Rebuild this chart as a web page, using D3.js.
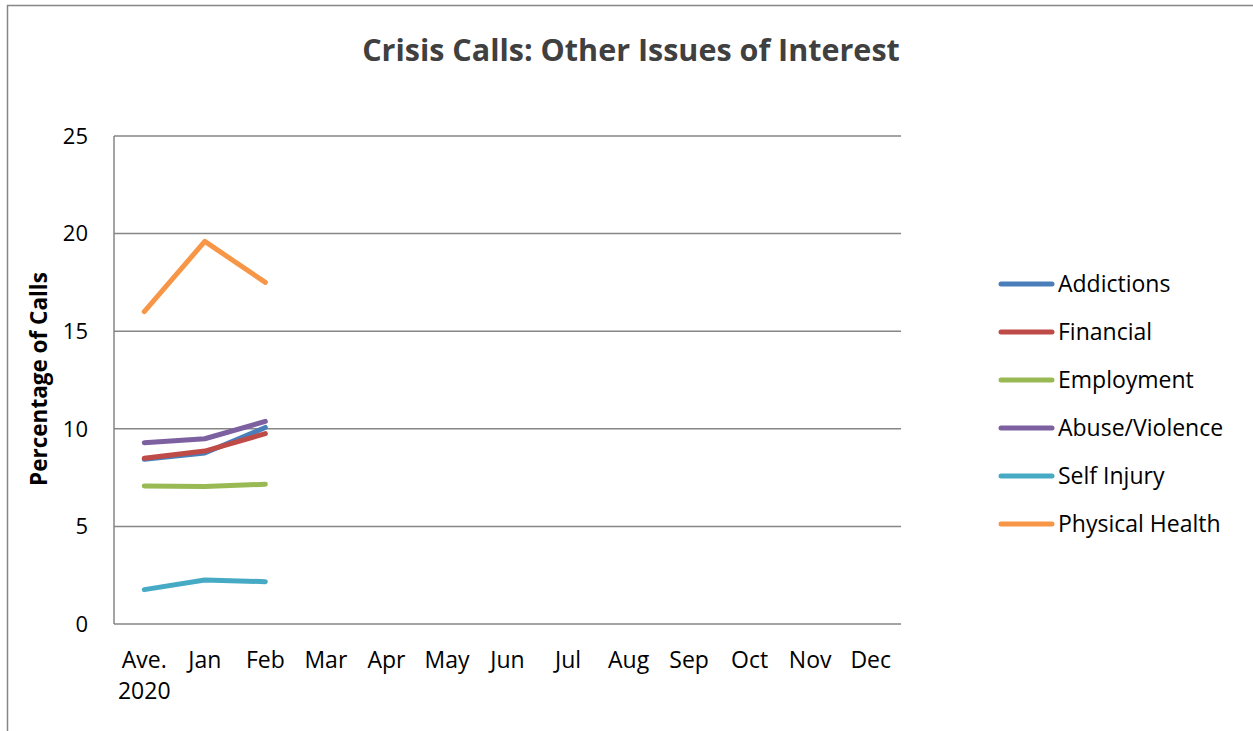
<!DOCTYPE html>
<html><head><meta charset="utf-8">
<script src="https://cdn.jsdelivr.net/npm/d3@7"></script>
<style>body{margin:0;background:#fff}svg{display:block}</style>
</head><body>
<svg id="chart" width="1253" height="731"></svg>
<script>
const categories = [["Ave.","2020"],["Jan"],["Feb"],["Mar"],["Apr"],["May"],["Jun"],["Jul"],["Aug"],["Sep"],["Oct"],["Nov"],["Dec"]];
const seriesNames = ["Addictions","Financial","Employment","Abuse/Violence","Self Injury","Physical Health"];
const seriesColors = ["#4a7ebb","#be4b48","#98b954","#7d60a0","#46aac5","#f79646"];
const addictions = [8.44, 8.76, 10.07];
const financial = [8.49, 8.86, 9.75];
const employment = [7.07, 7.05, 7.16];
const abuseViolence = [9.29, 9.49, 10.38];
const selfInjury = [1.76, 2.25, 2.17];
const physicalHealth = [16.0, 19.6, 17.5];
const yTicks = [0, 5, 10, 15, 20, 25];
const title = "Crisis Calls: Other Issues of Interest";
const yTitle = "Percentage of Calls";

const series = [addictions, financial, employment, abuseViolence, selfInjury, physicalHealth];
const svg = d3.select("#chart");
const font = "'Open Sans', sans-serif";
const gridColor = "#868686";

svg.append("path").attr("d","M7.5,731 V5.5 H1253").attr("fill","none").attr("stroke",gridColor).attr("stroke-width",1.5);

const plot = {left:114, right:901, top:136, bottom:624};
const x = d3.scaleBand().domain(d3.range(categories.length)).range([plot.left, plot.right]);
const y = d3.scaleLinear().domain([0,25]).range([plot.bottom, plot.top]);

svg.append("g").selectAll("line").data(yTicks).join("line")
  .attr("x1",plot.left).attr("x2",plot.right)
  .attr("y1",d=>y(d)).attr("y2",d=>y(d))
  .attr("stroke",gridColor).attr("stroke-width",1.5);
svg.append("line").attr("x1",plot.left).attr("x2",plot.left).attr("y1",plot.top).attr("y2",plot.bottom)
  .attr("stroke",gridColor).attr("stroke-width",1.5);

svg.append("g").selectAll("text").data(yTicks).join("text")
  .attr("x",88).attr("y",d=>y(d)).attr("dy","0.35em").attr("text-anchor","end")
  .attr("font-family",font).attr("font-size",22).attr("fill","#000").text(d=>d);

const xl = svg.append("g").selectAll("text").data(categories).join("text")
  .attr("x",(d,i)=>x(i)+x.bandwidth()/2).attr("y",668)
  .attr("text-anchor","middle").attr("font-family",font).attr("font-size",23).attr("fill","#000");
xl.each(function(d){
  const t = d3.select(this);
  d.forEach((s,k)=>t.append("tspan").attr("x",t.attr("x")).attr("dy",k?31:0).text(s));
});

svg.append("text").attr("x",631).attr("y",61).attr("text-anchor","middle")
  .attr("font-family",font).attr("font-weight","bold").attr("font-size",30.5).attr("fill","#404040").text(title);
svg.append("text").attr("transform","translate(47,379) rotate(-90)").attr("text-anchor","middle")
  .attr("font-family",font).attr("font-weight","bold").attr("font-size",22.5).attr("fill","#000").text(yTitle);

const line = d3.line().x((d,i)=>x(i)+x.bandwidth()/2).y(d=>y(d));
svg.append("g").selectAll("path").data(series).join("path")
  .attr("d",line).attr("fill","none").attr("stroke",(d,i)=>seriesColors[i])
  .attr("stroke-width",5).attr("stroke-linecap","round").attr("stroke-linejoin","round");

const lg = svg.append("g").selectAll("g").data(seriesNames).join("g")
  .attr("transform",(d,i)=>`translate(0,${284+i*48})`);
lg.append("line").attr("x1",1001).attr("x2",1052).attr("y1",0).attr("y2",0)
  .attr("stroke",(d,i)=>seriesColors[i]).attr("stroke-width",5).attr("stroke-linecap","round");
lg.append("text").attr("x",1058).attr("y",0).attr("dy","0.35em")
  .attr("font-family",font).attr("font-size",23).attr("fill","#000").text(d=>d);
</script>
</body></html>
